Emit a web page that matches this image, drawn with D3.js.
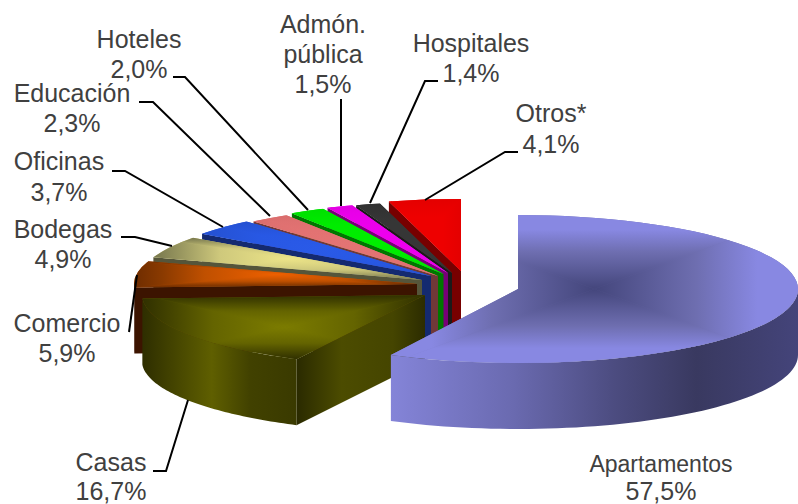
<!DOCTYPE html>
<html>
<head>
<meta charset="utf-8">
<script src="https://cdn.jsdelivr.net/npm/d3@7"></script>
<style>
html, body { margin: 0; padding: 0; background: #fff; }
svg { display: block; }
text { font-family: "Liberation Sans", Arial, sans-serif; fill: #404040; text-anchor: middle; }
</style>
</head>
<body>
<div id="chart"></div>
<script>
const width = 798;
const height = 504;

const categories = ['Apartamentos', 'Casas', 'Comercio', 'Bodegas', 'Oficinas', 'Educación', 'Hoteles', 'Admón. pública', 'Hospitales', 'Otros*'];
const values = [57.5, 16.7, 5.9, 4.9, 3.7, 2.3, 2.0, 1.5, 1.4, 4.1];

// look of the 3d pie, same order as categories
const faceStops = [
    ['#44467c', '#6e6eb0', '#8888e2', '#8888e2'],
    ['#7c7c00', '#646400', '#444400', '#303000'],
    ['#ee6000', '#c05000', '#8a3a00', '#6e2c00'],
    ['#ece488', '#cfc97c', '#98965f', '#77774e'],
    ['#2a5ae8', '#2858e4', '#2654d8', '#2450d0'],
    ['#e47474', '#e27272', '#de7070', '#d86c6c'],
    ['#00ee00', '#00ec00', '#00e400', '#00e000'],
    ['#ee00ee', '#ec00ec', '#e800e8', '#e000e0'],
    ['#363636', '#363636', '#333333', '#303030'],
    ['#ee0000', '#ee0000', '#e80000', '#e40000']
];
const wallColor = ['#8484d8', '#3a3a00', '#3c1400', '#55553a', '#142a70', '#703838', '#007700', '#770077', '#1a1a1a', '#770000'];
// slice tips after the explosion
const tips = [[518, 289], [425, 295], [417, 284], [422, 280], [431, 276], [438, 276], [443.5, 274], [448, 273], [452, 273], [461, 271]];

const depth = 66;
const rx = 283;
const ry = 72;

// label text position and leader line
const labels = [
    {lines: ['Apartamentos', '57,5%'], x: 661, y: [472, 500], size: [23, 25], leader: null},
    {lines: ['Casas', '16,7%'], x: 111, y: [471, 500], leader: [[153, 471], [166, 471], [188, 400]]},
    {lines: ['Comercio', '5,9%'], x: 67, y: [332, 362], leader: [[129, 332], [137, 275]]},
    {lines: ['Bodegas', '4,9%'], x: 63, y: [238, 268], leader: [[121, 237], [135, 237], [172, 246]]},
    {lines: ['Oficinas', '3,7%'], x: 59, y: [170, 201], leader: [[112, 171], [125, 171], [223, 227]]},
    {lines: ['Educación', '2,3%'], x: 72, y: [102, 132], leader: [[139, 102], [153, 102], [270, 216]]},
    {lines: ['Hoteles', '2,0%'], x: 139, y: [48, 78], leader: [[173, 77], [185, 77], [308, 210]]},
    {lines: ['Admón.', 'pública', '1,5%'], x: 323, y: [33, 63, 93], leader: [[341, 99], [341, 206]]},
    {lines: ['Hospitales', '1,4%'], x: 471, y: [52, 82], leader: [[438, 81], [425, 81], [370, 203]]},
    {lines: ['Otros*', '4,1%'], x: 551, y: [122, 153], leader: [[518, 152], [505, 152], [425, 200]]}
];

const svg = d3.select('#chart').append('svg')
    .attr('width', width)
    .attr('height', height);
const defs = svg.append('defs');

const slices = d3.pie().sort(null).value(d => d)(values);
const arc = d3.arc().innerRadius(0).outerRadius(rx);
const line = d3.line();

function rim(i, a) {
    const t = tips[i];
    const r = i === 0 ? 280 : rx;
    const k = i === 0 ? 74 : ry;
    return [t[0] + r * Math.sin(a), t[1] - k * Math.cos(a)];
}

function ramp(id, stops) {
    const g = defs.append('linearGradient').attr('id', id);
    stops.forEach(p => g.append('stop').attr('offset', p[0]).attr('stop-color', p[1]));
    return g;
}
ramp('wallApart', [[0, '#8484d8'], [0.3, '#6a6ab0'], [0.55, '#4c4c80'], [0.75, '#393960'], [1, '#44447a']]);
ramp('wallCasas', [[0, '#2e2e00'], [0.45, '#5f5f00'], [0.7, '#414100'], [1, '#3a3a00']]);
ramp('sideCasas', [[0, '#2a2a00'], [0.35, '#4c4c00'], [0.75, '#454500'], [1, '#2c2c00']]);

// top face with a box shaped gradient, four triangles clipped to the slice
function drawFace(g, i, s) {
    const sx = i === 0 ? 280 / rx : 1;
    const sy = (i === 0 ? 74 : ry) / rx;
    const t = tips[i];
    const pts = d3.range(0, 121).map(n => rim(i, s.startAngle + (s.endAngle - s.startAngle) * n / 120)).concat([t]);
    const x0 = d3.min(pts, p => p[0]), x1 = d3.max(pts, p => p[0]);
    const y0 = d3.min(pts, p => p[1]), y1 = d3.max(pts, p => p[1]);
    const mx = (x0 + x1) / 2, my = (y0 + y1) / 2;

    defs.append('clipPath').attr('id', 'clip' + i)
        .append('path')
        .attr('d', arc(s))
        .attr('transform', `translate(${t[0]},${t[1]}) scale(${sx},${sy})`);

    const offs = [0, 0.5, 0.8, 1];
    const sides = [
        {to: [mx, y0], tri: [[x0, y0], [x1, y0]]},
        {to: [x1, my], tri: [[x1, y0], [x1, y1]]},
        {to: [mx, y1], tri: [[x1, y1], [x0, y1]]},
        {to: [x0, my], tri: [[x0, y1], [x0, y0]]}
    ];
    const inner = g.append('g').attr('clip-path', `url(#clip${i})`);
    inner.append('rect')
        .attr('x', x0).attr('y', y0)
        .attr('width', x1 - x0).attr('height', y1 - y0)
        .attr('fill', faceStops[i][1]);
    sides.forEach((side, n) => {
        const id = `face${i}_${n}`;
        const grad = defs.append('linearGradient')
            .attr('id', id)
            .attr('gradientUnits', 'userSpaceOnUse')
            .attr('x1', mx).attr('y1', my)
            .attr('x2', side.to[0]).attr('y2', side.to[1]);
        offs.forEach((o, k) => grad.append('stop').attr('offset', o).attr('stop-color', faceStops[i][k]));
        const path = line([[mx, my], side.tri[0], side.tri[1]]) + 'Z';
        inner.append('path')
            .attr('d', path)
            .attr('fill', `url(#${id})`)
            .attr('stroke', `url(#${id})`)
            .attr('stroke-width', 0.6);
    });
}

// back slices first, the big one last
d3.range(slices.length).reverse().forEach(i => {
    const s = slices[i];
    const g = svg.append('g').attr('class', 'slice');
    const t = tips[i];

    // straight wall of the start edge
    if (Math.sin(s.startAngle) < -1e-6) {
        const p = rim(i, s.startAngle);
        g.append('path')
            .attr('d', line([p, t, [t[0], t[1] + depth], [p[0], p[1] + depth]]) + 'Z')
            .attr('fill', i === 1 ? 'url(#sideCasas)' : wallColor[i]);
    }

    // outer wall, only the part turned to the viewer
    const a0 = Math.max(s.startAngle, Math.PI / 2);
    const a1 = Math.min(s.endAngle, Math.PI * 1.5);
    if (a1 > a0) {
        const top = d3.range(0, 61).map(n => rim(i, a0 + (a1 - a0) * n / 60));
        const bottom = top.map(p => [p[0], p[1] + depth]).reverse();
        g.append('path')
            .attr('d', line(top.concat(bottom)) + 'Z')
            .attr('fill', i === 0 ? 'url(#wallApart)' : i === 1 ? 'url(#wallCasas)' : wallColor[i]);
    }

    drawFace(g, i, s);
});

// leader lines and labels
labels.forEach(l => {
    if (l.leader) {
        svg.append('path')
            .attr('d', line(l.leader))
            .attr('fill', 'none')
            .attr('stroke', '#000')
            .attr('stroke-width', 2);
    }
    l.lines.forEach((txt, n) => {
        svg.append('text')
            .attr('x', l.x)
            .attr('y', l.y[n])
            .attr('font-size', l.size ? l.size[n] : 25)
            .text(txt);
    });
});
</script>
</body>
</html>
